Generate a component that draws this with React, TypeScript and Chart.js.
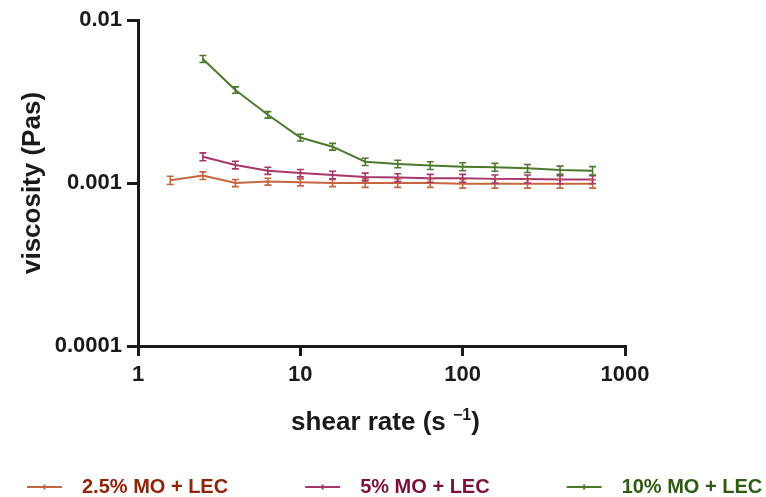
import React, { useEffect, useRef } from "react";
import { Chart, registerables } from "chart.js";

Chart.register(...registerables);

// ---- data ----
const shearRates = [1.58, 2.51, 3.98, 6.31, 10.0, 15.8, 25.1, 39.8, 63.1, 100, 158, 251, 398, 631];

const mo25 = [0.00104, 0.00111, 0.001, 0.00102, 0.00101, 0.001, 0.001, 0.001, 0.001, 0.00099, 0.00099, 0.00099, 0.00099, 0.00099];
const mo25Err = [0.00006, 0.00006, 0.00005, 0.00005, 0.00005, 0.00005, 0.00006, 0.00006, 0.00006, 0.00006, 0.00006, 0.00006, 0.00006, 0.00006];

const mo5 = [null, 0.00145, 0.00129, 0.00119, 0.00115, 0.00112, 0.00109, 0.00108, 0.00107, 0.00107, 0.00106, 0.00106, 0.00105, 0.00105];
const mo5Err = [null, 0.00008, 0.00007, 0.00006, 0.00006, 0.00006, 0.00006, 0.00006, 0.00006, 0.00006, 0.00006, 0.00006, 0.00006, 0.00006];

const mo10 = [null, 0.00577, 0.00372, 0.00262, 0.0019, 0.00167, 0.00135, 0.00131, 0.00128, 0.00126, 0.00125, 0.00123, 0.0012, 0.00119];
const mo10Err = [null, 0.00028, 0.00017, 0.00012, 0.00009, 0.00008, 0.00007, 0.00007, 0.00007, 0.00007, 0.00007, 0.00007, 0.00007, 0.00007];

const seriesLabels = ["2.5% MO + LEC", "5% MO + LEC", "10% MO + LEC"];
const xTicks = [1, 10, 100, 1000];
const yTicks = [0.0001, 0.001, 0.01];
const xTitle = "shear rate (s";
const xTitleSup = "\u22121";
const yTitle = "viscosity (Pas)";

const lineColors = ["#C6663E", "#A8366C", "#4C7A2C"];
const textColors = ["#8E2408", "#7A1238", "#2E5A12"];

const FONT = "'Liberation Sans', Arial, sans-serif";
const AXIS = "#1a1a1a";

function toPoints(vals: (number | null)[]) {
  const pts: { x: number; y: number }[] = [];
  vals.forEach((v, i) => {
    if (v != null) pts.push({ x: shearRates[i], y: v });
  });
  return pts;
}
function toErrs(errs: (number | null)[]) {
  return errs.filter((e) => e != null) as number[];
}

const errorBarPlugin = {
  id: "errorBars",
  afterDatasetsDraw(chart: any) {
    const ctx = chart.ctx;
    const yScale = chart.scales.y;
    chart.data.datasets.forEach((ds: any, i: number) => {
      const meta = chart.getDatasetMeta(i);
      ctx.save();
      ctx.strokeStyle = ds.borderColor;
      ctx.lineWidth = 1.6;
      meta.data.forEach((pt: any, j: number) => {
        const v = ds.data[j].y;
        const e = ds.errors[j];
        const y1 = yScale.getPixelForValue(v + e);
        const y2 = yScale.getPixelForValue(v - e);
        const x = pt.x;
        ctx.beginPath();
        ctx.moveTo(x, y1);
        ctx.lineTo(x, y2);
        ctx.moveTo(x - 3.5, y1);
        ctx.lineTo(x + 3.5, y1);
        ctx.moveTo(x - 3.5, y2);
        ctx.lineTo(x + 3.5, y2);
        ctx.stroke();
      });
      ctx.restore();
    });
  },
};

const decorPlugin = {
  id: "decor",
  afterDraw(chart: any) {
    const ctx = chart.ctx;
    ctx.save();
    // x-axis title with superscript
    const big = `bold 26px ${FONT}`;
    const small = `bold 16px ${FONT}`;
    ctx.font = big;
    const w1 = ctx.measureText(xTitle + " ").width;
    const w3 = ctx.measureText(")").width;
    ctx.font = small;
    const w2 = ctx.measureText(xTitleSup).width;
    const total = w1 + w2 + w3;
    const cx = (chart.chartArea.left + chart.chartArea.right) / 2 + 4;
    let x = cx - total / 2;
    const baseY = 430;
    ctx.fillStyle = AXIS;
    ctx.textBaseline = "alphabetic";
    ctx.textAlign = "left";
    ctx.font = big;
    ctx.fillText(xTitle + " ", x, baseY);
    x += w1;
    ctx.font = small;
    ctx.fillText(xTitleSup, x, baseY - 10);
    x += w2;
    ctx.font = big;
    ctx.fillText(")", x, baseY);

    // legend
    ctx.font = `bold 20px ${FONT}`;
    ctx.textBaseline = "middle";
    let lx = 27;
    const ly = 487;
    seriesLabels.forEach((lab, i) => {
      ctx.strokeStyle = lineColors[i];
      ctx.lineWidth = 2;
      ctx.beginPath();
      ctx.moveTo(lx, ly);
      ctx.lineTo(lx + 35, ly);
      ctx.moveTo(lx + 17.5, ly - 2.5);
      ctx.lineTo(lx + 17.5, ly + 2.5);
      ctx.stroke();
      ctx.fillStyle = textColors[i];
      const tx = lx + 55;
      ctx.fillText(lab, tx, ly);
      lx = tx + ctx.measureText(lab).width + 77;
    });
    ctx.restore();
  },
};

export default function App() {
  const ref = useRef<HTMLCanvasElement>(null);

  useEffect(() => {
    const datasets = [
      { label: seriesLabels[0], data: toPoints(mo25), errors: toErrs(mo25Err), borderColor: lineColors[0], backgroundColor: lineColors[0] },
      { label: seriesLabels[1], data: toPoints(mo5), errors: toErrs(mo5Err), borderColor: lineColors[1], backgroundColor: lineColors[1] },
      { label: seriesLabels[2], data: toPoints(mo10), errors: toErrs(mo10Err), borderColor: lineColors[2], backgroundColor: lineColors[2] },
    ].map((d) => ({ ...d, borderWidth: 2, pointRadius: 0, tension: 0, fill: false }));

    const chart = new Chart(ref.current as HTMLCanvasElement, {
      type: "line",
      data: { datasets } as any,
      options: {
        responsive: false,
        animation: false,
        events: [],
        layout: { padding: { left: 0, top: 20, right: 141, bottom: 0 } },
        plugins: { legend: { display: false }, tooltip: { enabled: false }, title: { display: false } },
        scales: {
          x: {
            type: "logarithmic",
            position: "bottom",
            min: 1,
            max: 1000,
            afterBuildTicks: (s: any) => {
              s.ticks = xTicks.map((v) => ({ value: v }));
            },
            afterFit: (s: any) => {
              s.height = 151;
            },
            ticks: {
              callback: (v: any) => String(v),
              font: { family: FONT, size: 22, weight: "bold" },
              color: AXIS,
              padding: 6,
              autoSkip: false,
              maxRotation: 0,
              major: { enabled: false },
            },
            grid: { display: true, drawOnChartArea: false, drawTicks: true, tickLength: 10, color: AXIS, lineWidth: 3 },
            border: { display: true, color: AXIS, width: 3 },
          },
          y: {
            type: "logarithmic",
            min: 0.0001,
            max: 0.01,
            afterBuildTicks: (s: any) => {
              s.ticks = yTicks.map((v) => ({ value: v }));
            },
            afterFit: (s: any) => {
              s.width = 138;
            },
            ticks: {
              callback: (v: any) => String(v),
              font: { family: FONT, size: 22, weight: "bold" },
              color: AXIS,
              padding: 5,
              autoSkip: false,
              major: { enabled: false },
            },
            grid: { display: true, drawOnChartArea: false, drawTicks: true, tickLength: 11, color: AXIS, lineWidth: 3 },
            border: { display: true, color: AXIS, width: 3 },
            title: {
              display: true,
              text: yTitle,
              color: AXIS,
              font: { family: FONT, size: 26, weight: "bold" },
              padding: { top: 17, bottom: 0 },
            },
          },
        },
      } as any,
      plugins: [errorBarPlugin, decorPlugin],
    });
    return () => chart.destroy();
  }, []);

  return (
    <div style={{ position: "fixed", left: 0, top: 0, width: 766, height: 497, background: "#fff" }}>
      <canvas ref={ref} width={766} height={497} style={{ width: 766, height: 497, display: "block" }} />
    </div>
  );
}
